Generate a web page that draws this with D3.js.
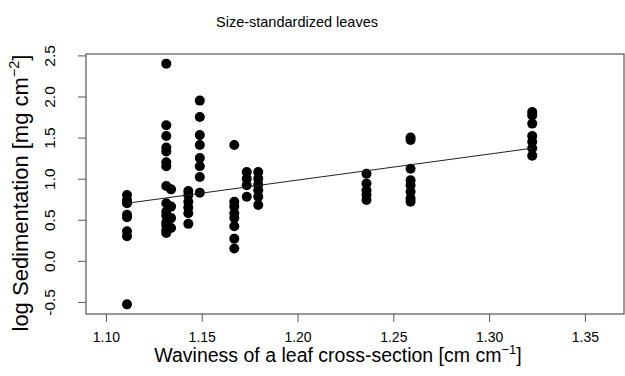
<!DOCTYPE html>
<html>
<head>
<meta charset="utf-8">
<script src="https://cdn.jsdelivr.net/npm/d3@7"></script>
<style>
  body { margin: 0; background: #fff; }
  text { font-family: "Liberation Sans", Arial, sans-serif; fill: #000; }
</style>
</head>
<body>
<div id="svg"></div>
<script>
// waviness of each leaf group (x) and its log sedimentation values (y)
var groupX = [1.111, 1.1315, 1.134, 1.143, 1.149, 1.167, 1.1735, 1.1795, 1.236, 1.259, 1.3225];
var groupY = [
  [0.80, 0.74, 0.70, 0.56, 0.53, 0.36, 0.30, -0.53],
  [2.40, 1.65, 1.52, 1.38, 1.33, 1.20, 1.15, 0.91, 0.70, 0.60, 0.55, 0.47, 0.43, 0.37, 0.34],
  [0.87, 0.66, 0.52, 0.40],
  [0.85, 0.80, 0.72, 0.65, 0.58, 0.45],
  [1.95, 1.75, 1.53, 1.41, 1.25, 1.15, 1.02, 0.83],
  [1.41, 0.72, 0.66, 0.58, 0.52, 0.42, 0.27, 0.15],
  [1.08, 1.00, 0.92, 0.78],
  [1.08, 1.00, 0.93, 0.86, 0.78, 0.68],
  [1.06, 0.94, 0.86, 0.80, 0.74],
  [1.50, 1.47, 1.12, 0.98, 0.92, 0.84, 0.76, 0.72],
  [1.81, 1.77, 1.67, 1.52, 1.45, 1.37, 1.28]
];

// fitted regression line, read at both ends
var fitX = [1.111, 1.3225];
var fitY = [0.70, 1.37];

var xTicks = [1.10, 1.15, 1.20, 1.25, 1.30, 1.35];
var yTicks = [-0.5, 0.0, 0.5, 1.0, 1.5, 2.0, 2.5];

var points = [];
for (var i = 0; i < groupX.length; i++) {
  for (var j = 0; j < groupY[i].length; j++) {
    points.push({x: groupX[i], y: groupY[i][j]});
  }
}

var width = 625, height = 376;
// plot region (window.top is read-only, so other names)
var boxL = 86, boxR = 624, boxT = 54, boxB = 314;

var svg = d3.select("#svg")
  .append("svg")
    .attr("width", width)
    .attr("height", height);

// R style: xlim extended by 4%
var xlim = [1.10, 1.36];
var xpad = (xlim[1] - xlim[0]) * 0.04;
var x = d3.scaleLinear()
  .domain([xlim[0] - xpad, xlim[1] + xpad])
  .range([boxL, boxR]);

var yext = d3.extent(points, function(d) { return d.y; });
var ypad = (yext[1] - yext[0]) * 0.04;
var y = d3.scaleLinear()
  .domain([yext[0] - ypad, yext[1] + ypad])
  .range([boxB, boxT]);

// bottom axis
var xAxis = svg.append("g")
  .attr("transform", "translate(0," + boxB + ")")
  .call(d3.axisBottom(x).tickValues(xTicks).tickFormat(d3.format(".2f")).tickSize(8).tickSizeOuter(0));
xAxis.select(".domain").remove();
xAxis.selectAll("line").attr("stroke", "#555");
xAxis.selectAll("text")
  .attr("font-size", "14px")
  .attr("font-family", "Liberation Sans, Arial, sans-serif")
  .attr("fill", "#000")
  .attr("y", 18)
  .attr("dy", "0.71em");

// left axis, labels turned like R's las=0
var yAxis = svg.append("g")
  .attr("transform", "translate(" + boxL + ",0)")
  .call(d3.axisLeft(y).tickValues(yTicks).tickFormat(d3.format(".1f")).tickSize(8).tickSizeOuter(0));
yAxis.select(".domain").remove();
yAxis.selectAll("line").attr("stroke", "#555");
yAxis.selectAll("text")
  .attr("font-size", "15.5px")
  .attr("font-family", "Liberation Sans, Arial, sans-serif")
  .attr("fill", "#000")
  .attr("x", 0)
  .attr("dy", 0)
  .attr("text-anchor", "middle")
  .attr("transform", "translate(-31,0) rotate(-90)")
  .text(function(d) { return d3.format(".1f")(d).replace("\u2212", "-"); });

// plot box
svg.append("rect")
  .attr("x", boxL)
  .attr("y", boxT)
  .attr("width", boxR - boxL)
  .attr("height", boxB - boxT)
  .attr("fill", "none")
  .attr("stroke", "#555")
  .attr("stroke-width", 1.2);

// points
svg.selectAll(".pt")
    .data(points)
  .enter()
    .append("circle")
    .attr("class", "pt")
    .attr("cx", function(d) { return x(d.x); })
    .attr("cy", function(d) { return y(d.y); })
    .attr("r", 5)
    .attr("fill", "#000");

// regression line
svg.append("line")
  .attr("x1", x(fitX[0]))
  .attr("y1", y(fitY[0]))
  .attr("x2", x(fitX[1]))
  .attr("y2", y(fitY[1]))
  .attr("stroke", "#222")
  .attr("stroke-width", 1.1);

// title
svg.append("text")
  .attr("x", 297)
  .attr("y", 27)
  .attr("text-anchor", "middle")
  .attr("font-size", "14.5px")
  .text("Size-standardized leaves");

// x axis title
var xt = svg.append("text")
  .attr("x", 338)
  .attr("y", 362)
  .attr("text-anchor", "middle")
  .attr("font-size", "19.5px");
xt.append("tspan").text("Waviness of a leaf cross-section [cm cm");
xt.append("tspan").attr("font-size", "13px").attr("dy", -8).text("\u22121");
xt.append("tspan").attr("dy", 8).text("]");

// y axis title
var yt = svg.append("text")
  .attr("transform", "translate(28,193) rotate(-90)")
  .attr("text-anchor", "middle")
  .attr("font-size", "22px");
yt.append("tspan").text("log Sedimentation [mg cm");
yt.append("tspan").attr("font-size", "14.5px").attr("dy", -9).text("\u22122");
yt.append("tspan").attr("dy", 9).text("]");
</script>
</body>
</html>
